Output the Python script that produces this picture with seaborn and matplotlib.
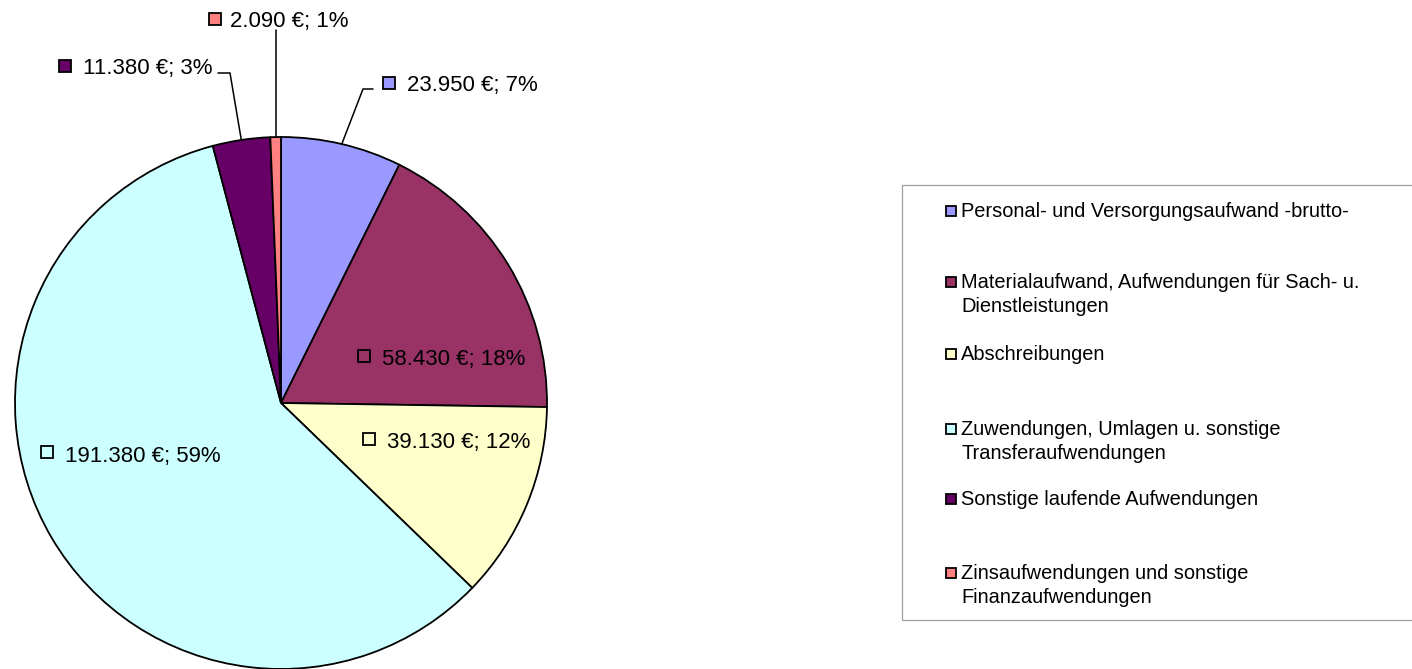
import numpy as np
import matplotlib
matplotlib.use("Agg")
import matplotlib.pyplot as plt
from matplotlib.patches import Rectangle
import seaborn as sns

# ---- data ----
categories = [
    "Personal- und Versorgungsaufwand -brutto-",
    "Materialaufwand, Aufwendungen für Sach- u.\nDienstleistungen",
    "Abschreibungen",
    "Zuwendungen, Umlagen u. sonstige\nTransferaufwendungen",
    "Sonstige laufende Aufwendungen",
    "Zinsaufwendungen und sonstige\nFinanzaufwendungen",
]
values = [23950, 58430, 39130, 191380, 11380, 2090]
colors = ["#9999FF", "#993366", "#FFFFCC", "#CCFFFF", "#660066", "#FF8080"]

sns.set_theme(style="white")
plt.rcParams["font.family"] = ["Liberation Sans", "DejaVu Sans"]

W, H = 1412, 669
fig = plt.figure(figsize=(W / 100, H / 100), dpi=100)
ax = fig.add_axes([0, 0, 1, 1])

def Y(y):
    return H - y

cx, cy, R = 281, Y(403), 266
palette = sns.color_palette(colors)
wedges, _ = ax.pie(values, colors=palette, startangle=90, counterclock=False,
                   center=(cx, cy), radius=R,
                   wedgeprops=dict(edgecolor="black", linewidth=1.3))
ax.set_xlim(0, W)
ax.set_ylim(0, H)
ax.set_aspect("equal")
ax.axis("off")

total = sum(values)
def fmt(v):
    return f"{v:,}".replace(",", ".") + f" €; {round(100 * v / total)}%"

# label layout: (marker x, marker y, text x, baseline y, inside?)
layout = [
    (389, 83, 407, 91, False),
    (364, 356, 382, 365, True),
    (369, 439, 387, 448, True),
    (47, 452, 65, 462, True),
    (65, 66, 83, 74, False),
    (215, 19, 230, 27, False),
]
for i, (mx, my, tx, ty, inside) in enumerate(layout):
    ax.plot([mx], [Y(my)], marker="s", markersize=8, markerfacecolor=palette[i],
            markeredgecolor="black", markeredgewidth=1.3, linestyle="none")
    ax.text(tx, Y(ty), fmt(values[i]), fontsize=16, ha="left", va="baseline", color="black")

def edge_point(w):
    m = np.deg2rad((w.theta1 + w.theta2) / 2)
    return cx + R * np.cos(m), cy + R * np.sin(m)

# leader lines for outside labels
ex, ey = edge_point(wedges[0])
ax.plot([373, 363, ex], [Y(89), Y(89), ey], color="black", lw=1.1)
ex, ey = edge_point(wedges[4])
ax.plot([218, 230, ex], [Y(73), Y(73), ey], color="black", lw=1.1)
ex, ey = edge_point(wedges[5])
ax.plot([ex, ex], [Y(30), ey], color="black", lw=1.1)

# legend (manual, Excel-style fixed slots)
ax.add_patch(Rectangle((902, Y(620)), 600, 620 - 185, facecolor="white",
                       edgecolor="#A0A0A0", lw=0.9))
leg_base = [217, 288, 360, 435, 505, 579]
for i, lab in enumerate(categories):
    b = leg_base[i]
    ax.plot([950.5], [Y(b - 6)], marker="s", markersize=7.5, markerfacecolor=palette[i],
            markeredgecolor="black", markeredgewidth=1.3, linestyle="none")
    for j, line in enumerate(lab.split("\n")):
        ax.text(961, Y(b + 24 * j), line, fontsize=14.4, ha="left", va="baseline", color="black")

fig.savefig("out.png", dpi=100)
